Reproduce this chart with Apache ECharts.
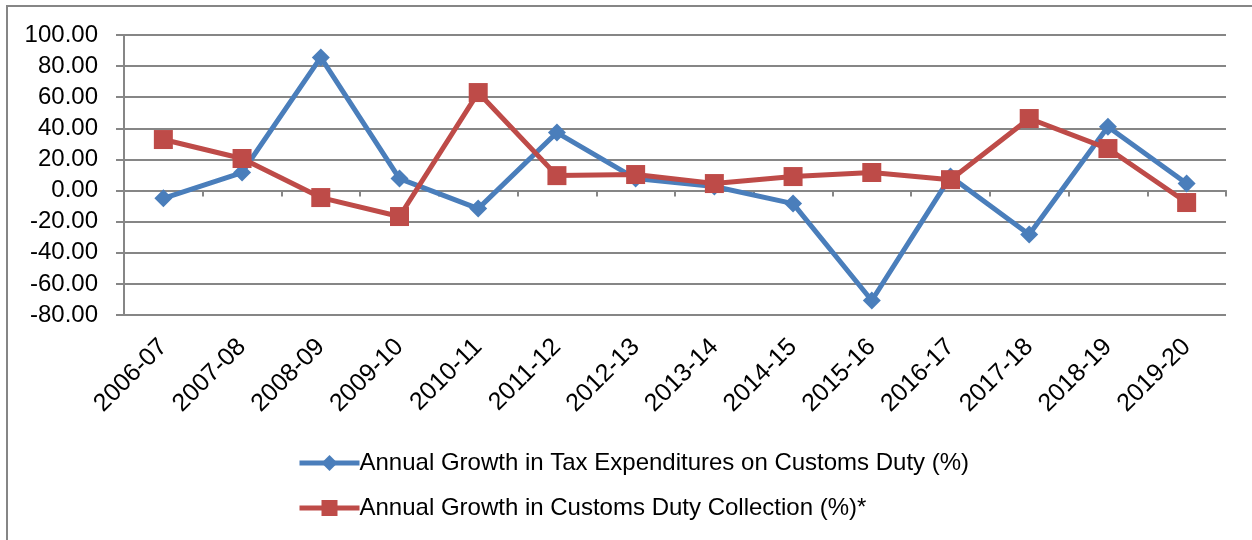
<!DOCTYPE html>
<html>
<head>
<meta charset="utf-8">
<script src="https://cdn.jsdelivr.net/npm/echarts@6/dist/echarts.min.js"></script>
<style>
html,body{margin:0;padding:0;background:#fff;}
#chart{width:1252px;height:540px;}
</style>
</head>
<body>
<div id="chart"></div>
<script>
const categories = ['2006-07','2007-08','2008-09','2009-10','2010-11','2011-12','2012-13','2013-14','2014-15','2015-16','2016-17','2017-18','2018-19','2019-20'];
const taxExpenditureGrowth = [-5.0, 11.6, 85.6, 7.7, -11.6, 37.3, 7.7, 2.6, -8.4, -70.7, 9.0, -28.3, 41.0, 4.5];
const customsCollectionGrowth = [32.8, 20.6, -4.5, -16.7, 63.0, 9.6, 10.3, 4.5, 9.0, 11.6, 7.0, 46.3, 27.0, -7.7];
const seriesNames = ['Annual Growth in Tax Expenditures on Customs Duty (%)', 'Annual Growth in Customs Duty Collection (%)*'];
const yTicks = {min: -80, max: 100, interval: 20};

const FONT = 'Liberation Sans';
const chart = echarts.init(document.getElementById('chart'), null, {renderer: 'canvas'});
chart.setOption({
  animation: false,
  backgroundColor: '#fff',
  textStyle: {fontFamily: FONT},
  graphic: [{
    type: 'polyline',
    shape: {points: [[7, 545], [7, 6], [1260, 6]]},
    style: {stroke: '#868686', lineWidth: 2, fill: null}
  }],
  grid: {left: 124, right: 26, top: 35, bottom: 225, containLabel: false},
  legend: {
    orient: 'vertical',
    left: 297,
    top: 451,
    padding: 0,
    itemGap: 21,
    itemWidth: 60,
    itemHeight: 20,
    lineStyle: {width: 5},
    textStyle: {fontSize: 24, color: '#000', fontFamily: FONT, padding: [0, 0, 0, -5]},
    data: seriesNames
  },
  xAxis: [{
    type: 'category',
    data: categories,
    boundaryGap: true,
    axisLine: {onZero: true, lineStyle: {color: '#868686', width: 2}},
    axisTick: {show: true, length: 6, lineStyle: {color: '#868686', width: 2}},
    axisLabel: {show: false},
    splitLine: {show: false}
  }, {
    type: 'category',
    data: categories,
    position: 'bottom',
    boundaryGap: true,
    axisLine: {show: false, onZero: false},
    axisTick: {show: false},
    axisLabel: {rotate: 45, fontSize: 25, color: '#000', margin: 28, interval: 0, fontFamily: FONT}
  }],
  yAxis: {
    type: 'value',
    min: yTicks.min,
    max: yTicks.max,
    interval: yTicks.interval,
    axisLine: {show: true, lineStyle: {color: '#868686', width: 2}},
    axisTick: {show: true, length: 8, lineStyle: {color: '#868686', width: 2}},
    axisLabel: {fontSize: 24, color: '#000', margin: 26, fontFamily: FONT, formatter: v => v.toFixed(2)},
    splitLine: {show: true, lineStyle: {color: '#868686', width: 2}}
  },
  series: [{
    name: seriesNames[0],
    type: 'line',
    xAxisIndex: 0,
    data: taxExpenditureGrowth,
    symbol: 'diamond',
    symbolSize: 18,
    lineStyle: {color: '#4a7ebb', width: 5},
    itemStyle: {color: '#4a7ebb'}
  }, {
    name: seriesNames[1],
    type: 'line',
    xAxisIndex: 0,
    data: customsCollectionGrowth,
    symbol: 'rect',
    symbolSize: 19,
    lineStyle: {color: '#be4b48', width: 5},
    itemStyle: {color: '#be4b48'}
  }]
});
</script>
</body>
</html>
